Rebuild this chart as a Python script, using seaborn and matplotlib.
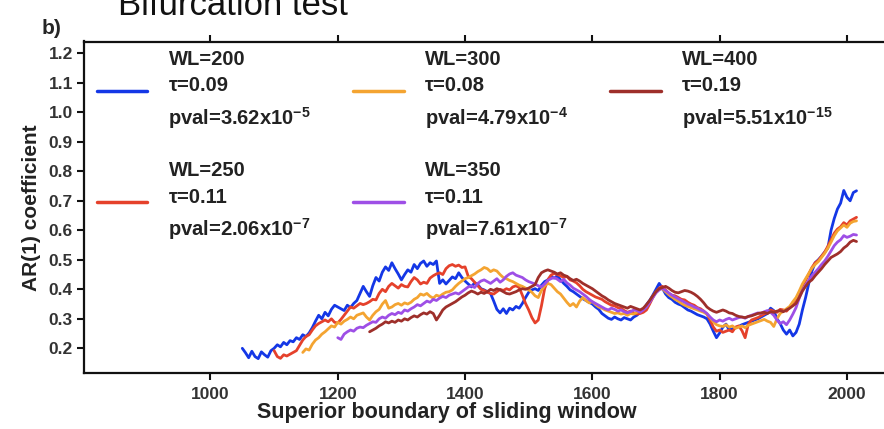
"""
AR(1) coefficient along sliding windows (bifurcation test, panel b)
"""
import numpy as np
import matplotlib.pyplot as plt
import seaborn as sns

sns.set_theme(style="ticks")
plt.rcParams['font.family'] = ['Liberation Sans', 'DejaVu Sans']
plt.rcParams['mathtext.fontset'] = 'custom'
plt.rcParams['mathtext.rm'] = 'Liberation Sans:bold'
plt.rcParams['mathtext.bf'] = 'Liberation Sans:bold'
plt.rcParams['mathtext.default'] = 'bf'

# AR(1) values every 5 years (first year given separately)
wl200_start = 1050
wl200 = [.200, .185, .168, .190, .172, .165, .188, .178, .170, .192,
         .200, .212, .205, .220, .212, .226, .222, .236, .230, .246,
         .240, .252, .270, .292, .312, .300, .322, .310, .332, .346,
         .340, .334, .328, .346, .338, .352, .362, .386, .410, .392,
         .376, .412, .440, .428, .458, .476, .464, .490, .470, .452,
         .432, .450, .466, .458, .484, .470, .488, .496, .478, .490,
         .484, .496, .420, .432, .418, .430, .442, .436, .456, .440,
         .428, .418, .408, .422, .416, .402, .398, .392, .386, .360,
         .332, .320, .334, .318, .336, .330, .342, .336, .352, .372,
         .390, .398, .402, .396, .414, .426, .432, .444, .438, .446,
         .432, .420, .410, .398, .392, .384, .376, .368, .362, .356,
         .350, .340, .332, .318, .310, .302, .298, .306, .300, .296,
         .304, .300, .296, .306, .312, .322, .330, .348, .362, .380,
         .400, .420, .404, .384, .372, .366, .356, .350, .346, .338,
         .330, .326, .320, .314, .310, .306, .300, .282, .258, .236,
         .252, .272, .282, .262, .266, .270, .274, .280, .284, .288,
         .292, .296, .300, .306, .312, .318, .336, .328, .300, .284,
         .262, .248, .262, .242, .254, .282, .330, .372, .420, .462,
         .490, .500, .512, .526, .540, .600, .640, .672, .692, .735,
         .712, .700, .728, .734]

wl250_start = 1100
wl250 = [.192, .172, .166, .178, .174, .180, .186, .192, .210, .228,
         .240, .246, .262, .276, .284, .290, .296, .290, .300, .288,
         .286, .298, .312, .326, .340, .336, .344, .352, .348, .352,
         .358, .366, .364, .386, .400, .392, .410, .420, .412, .404,
         .416, .410, .408, .426, .440, .432, .418, .424, .420, .438,
         .446, .452, .456, .450, .470, .480, .484, .478, .482, .474,
         .476, .444, .436, .424, .412, .400, .396, .390, .386, .384,
         .392, .400, .396, .402, .398, .408, .412, .406, .380, .352,
         .330, .304, .286, .296, .344, .402, .432, .448, .454, .450,
         .446, .440, .444, .432, .428, .422, .412, .400, .392, .386,
         .380, .374, .370, .366, .358, .352, .346, .344, .338, .336,
         .328, .322, .326, .320, .316, .318, .322, .330, .350, .372,
         .392, .404, .410, .398, .386, .380, .378, .372, .366, .364,
         .356, .350, .346, .338, .334, .326, .316, .296, .272, .258,
         .262, .254, .258, .262, .256, .272, .276, .260, .236, .282,
         .296, .300, .304, .310, .316, .322, .330, .326, .322, .332,
         .330, .326, .338, .354, .364, .388, .412, .430, .452, .474,
         .490, .498, .512, .526, .546, .568, .590, .604, .612, .626,
         .618, .632, .638, .644]

wl300_start = 1145
wl300 = [.186, .198, .194, .214, .228, .236, .248, .256, .266, .276,
         .272, .288, .282, .292, .298, .306, .300, .312, .316, .320,
         .306, .296, .312, .324, .332, .350, .362, .336, .340, .348,
         .352, .346, .354, .350, .356, .366, .372, .384, .380, .386,
         .376, .370, .380, .376, .384, .390, .392, .398, .410, .420,
         .428, .436, .440, .446, .452, .460, .466, .474, .470, .460,
         .466, .462, .450, .440, .436, .430, .426, .420, .414, .410,
         .404, .398, .390, .378, .372, .396, .412, .420, .416, .404,
         .392, .384, .370, .356, .344, .352, .340, .360, .372, .362,
         .354, .358, .348, .340, .336, .330, .326, .322, .318, .320,
         .316, .318, .312, .318, .316, .322, .326, .332, .342, .358,
         .376, .390, .400, .402, .392, .382, .374, .366, .360, .352,
         .346, .342, .338, .334, .330, .326, .322, .316, .304, .290,
         .280, .276, .274, .280, .272, .276, .268, .272, .276, .270,
         .278, .282, .286, .290, .294, .298, .292, .288, .274, .300,
         .318, .326, .334, .342, .358, .372, .394, .418, .436, .454,
         .472, .484, .494, .508, .522, .540, .560, .582, .598, .608,
         .618, .610, .624, .630, .632]

wl350_start = 1200
wl350 = [.236, .230, .248, .256, .262, .258, .268, .272, .270, .278,
         .284, .290, .288, .300, .306, .302, .312, .318, .314, .322,
         .318, .330, .326, .334, .340, .348, .344, .352, .360, .356,
         .366, .362, .370, .376, .372, .380, .384, .388, .384, .392,
         .400, .408, .412, .406, .420, .428, .432, .426, .420, .428,
         .436, .424, .432, .444, .452, .456, .448, .444, .440, .432,
         .426, .422, .418, .412, .408, .418, .430, .436, .440, .434,
         .426, .434, .422, .414, .404, .398, .392, .384, .376, .366,
         .358, .352, .346, .340, .334, .330, .336, .332, .326, .330,
         .324, .320, .324, .330, .328, .322, .330, .340, .356, .372,
         .388, .398, .404, .396, .388, .380, .374, .368, .362, .356,
         .350, .346, .340, .336, .330, .326, .318, .306, .296, .290,
         .296, .292, .298, .302, .296, .300, .304, .306, .302, .308,
         .312, .316, .320, .318, .324, .328, .322, .312, .296, .284,
         .290, .280, .296, .316, .338, .370, .396, .414, .430, .446,
         .458, .470, .484, .496, .512, .530, .548, .560, .568, .582,
         .576, .580, .586, .584]

wl400_start = 1250
wl400 = [.256, .262, .268, .276, .282, .290, .286, .292, .288, .296,
         .292, .300, .296, .304, .310, .306, .314, .320, .316, .324,
         .318, .296, .312, .330, .340, .346, .352, .358, .366, .374,
         .380, .388, .394, .390, .384, .390, .386, .392, .400, .396,
         .402, .398, .392, .386, .384, .388, .392, .398, .402, .400,
         .404, .410, .416, .440, .456, .462, .466, .462, .458, .452,
         .456, .448, .444, .436, .430, .434, .428, .420, .414, .408,
         .402, .394, .386, .378, .372, .364, .358, .352, .348, .344,
         .340, .336, .342, .338, .334, .330, .336, .348, .362, .378,
         .392, .402, .406, .410, .404, .396, .390, .388, .392, .396,
         .394, .390, .384, .376, .366, .354, .340, .332, .326, .322,
         .326, .330, .326, .320, .318, .312, .308, .306, .304, .308,
         .310, .314, .318, .320, .322, .318, .324, .322, .326, .328,
         .324, .330, .336, .344, .352, .372, .394, .410, .424, .432,
         .446, .458, .470, .484, .496, .508, .514, .520, .528, .540,
         .548, .560, .566, .562]

series_starts = [wl200_start, wl250_start, wl300_start, wl350_start, wl400_start]
series_values = [wl200, wl250, wl300, wl350, wl400]
series_labels = [
    "WL=200\n\u03c4=0.09\npval=3.62x10$^{-5}$",
    "WL=250\n\u03c4=0.11\npval=2.06x10$^{-7}$",
    "WL=300\n\u03c4=0.08\npval=4.79x10$^{-4}$",
    "WL=350\n\u03c4=0.11\npval=7.61x10$^{-7}$",
    "WL=400\n\u03c4=0.19\npval=5.51x10$^{-15}$",
]
series_colors = ["#1437e6", "#e5412b", "#f4a431", "#9e4fe6", "#9e2f2a"]

fig = plt.figure(figsize=(8.84, 4.29), dpi=100)
ax = fig.add_axes([84 / 884, 56 / 429, 810 / 884, 331.5 / 429])

for start, vals, lab, col in zip(series_starts, series_values, series_labels, series_colors):
    yrs = np.arange(start, start + 5 * len(vals), 5)[:len(vals)]
    sns.lineplot(x=yrs, y=vals, color=col, lw=2.0, label=lab, ax=ax)

ax.set_xlim(801.3, 2073.9)
ax.set_ylim(0.1163, 1.240)
ax.set_xticks([1000, 1200, 1400, 1600, 1800, 2000])
ax.set_yticks(np.round(np.arange(0.2, 1.21, 0.1), 1))
ax.set_yticklabels([f"{v:.1f}" for v in np.arange(0.2, 1.21, 0.1)])

for s in ax.spines.values():
    s.set_linewidth(1.6)
    s.set_color('#111111')
ax.spines['right'].set_visible(False)
ax.tick_params(axis='both', direction='out', length=5, width=1.5,
               labelsize=12.5, colors='#111111', labelcolor='#333333')
ax.tick_params(axis='x', top=True, pad=5)
ax.tick_params(axis='y', pad=3)
for t in ax.get_xticklabels() + ax.get_yticklabels():
    t.set_fontweight('bold')

ax.set_xlabel('Superior boundary of sliding window', fontsize=15.5, fontweight='bold', color='#222222')
ax.xaxis.set_label_coords((446.5 - 84) / 810, -0.088)
ax.set_ylabel('AR(1) coefficient', fontsize=15, fontweight='bold', color='#222222')
ax.yaxis.set_label_coords(-0.053, 0.5)

leg = ax.legend(loc='upper left', bbox_to_anchor=(13 / 810, 0.975), ncol=3, frameon=False,
                handlelength=2.5, handletextpad=1.05, columnspacing=2.1, labelspacing=1.5,
                borderpad=0, borderaxespad=0, prop={'weight': 'bold', 'size': 14.5})
for t in leg.get_texts():
    t.set_linespacing(1.5)
    t.set_color('#222222')
for h in leg.get_lines():
    h.set_linewidth(2.5)

fig.text(42 / 884, 1 - 34 / 429, 'b)', fontsize=15, fontweight='bold', va='baseline')
fig.text(118 / 884, 1 - 15 / 429, 'Bifurcation test', fontsize=25, va='baseline', color='#111111')

fig.savefig('out.png', dpi=100, facecolor='white')
